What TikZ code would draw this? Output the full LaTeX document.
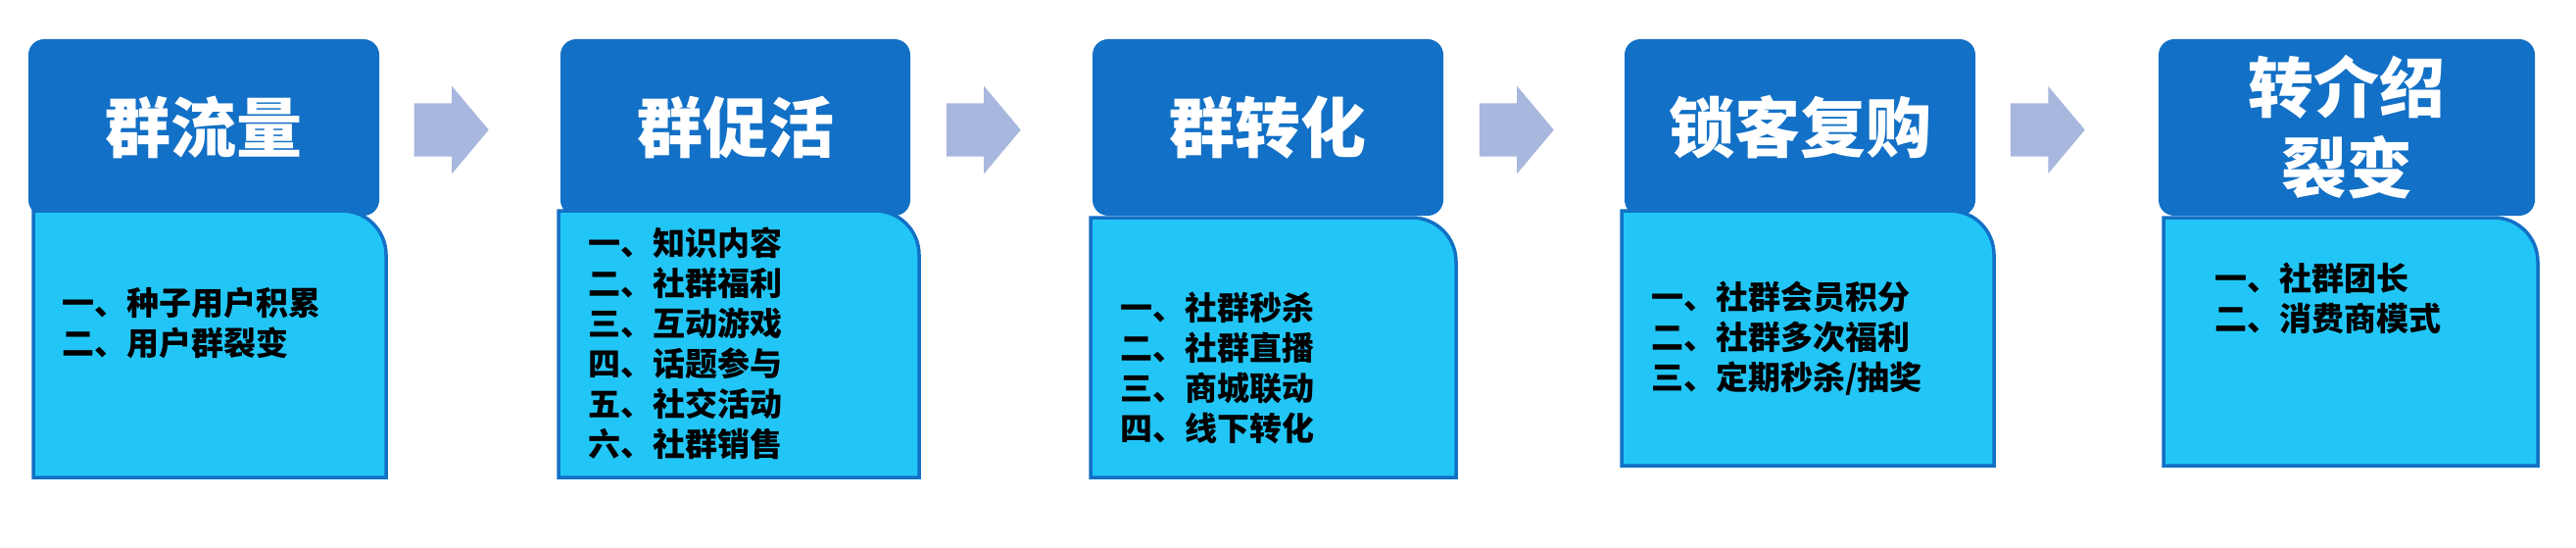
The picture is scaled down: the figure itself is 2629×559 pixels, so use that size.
\documentclass[tikz,border=0pt]{standalone}
\usepackage{fontspec}
\newfontfamily\cjk{Noto Sans CJK SC}
\usetikzlibrary{shapes.arrows}
\definecolor{headblue}{RGB}{18,112,198}
\definecolor{bodyblue}{RGB}{34,198,246}
\definecolor{linkblue}{RGB}{168,183,221}
\begin{document}
\begin{tikzpicture}[x=1pt,y=-1pt,
  head/.style={rectangle, rounded corners=16pt, fill=headblue, text=white, minimum height=180pt, align=center, inner sep=0pt, font=\cjk\bfseries\fontsize{67}{82}\selectfont},
  body/.style={fill=bodyblue, draw=headblue, line width=3.5pt},
  item/.style={anchor=west, align=left, inner sep=0pt, font=\cjk\bfseries\fontsize{33}{41}\selectfont},
  link/.style={single arrow, fill=linkblue, anchor=tip, minimum height=76pt, inner xsep=0pt, inner ysep=27pt, single arrow head extend=17.5pt, single arrow tip angle=100}]
\useasboundingbox (0,0) rectangle (2629,559);
% stage 1
\node[head, minimum width=358pt] (H1) at (208,130) {群流量};
\draw[body] (34,487) -- (34,215) [rounded corners=45pt] -- (394,215) [sharp corners] -- (394,487) -- cycle;
\node[item] (T1) at (63,330) {一、种子用户积累\\二、用户群裂变};
\node[link] (A1) at (499,132.5) {};
% stage 2
\node[head, minimum width=357pt] (H2) at (750.5,130) {群促活};
\draw[body] (570,487) -- (570,215) [rounded corners=45pt] -- (938,215) [sharp corners] -- (938,487) -- cycle;
\node[item] (T2) at (600,350) {一、知识内容\\二、社群福利\\三、互动游戏\\四、话题参与\\五、社交活动\\六、社群销售};
\node[link] (A2) at (1042,132.5) {};
% stage 3
\node[head, minimum width=358pt] (H3) at (1294,130) {群转化};
\draw[body] (1113,487) -- (1113,222) [rounded corners=45pt] -- (1486,222) [sharp corners] -- (1486,487) -- cycle;
\node[item] (T3) at (1143,375) {一、社群秒杀\\二、社群直播\\三、商城联动\\四、线下转化};
\node[link] (A3) at (1586,132.5) {};
% stage 4
\node[head, minimum width=358pt] (H4) at (1837,130) {锁客复购};
\draw[body] (1655,475) -- (1655,215) [rounded corners=45pt] -- (2035,215) [sharp corners] -- (2035,475) -- cycle;
\node[item] (T4) at (1685,345) {一、社群会员积分\\二、社群多次福利\\三、定期秒杀/抽奖};
\node[link] (A4) at (2128,132.5) {};
% stage 5
\node[head, minimum width=384pt] (H5) at (2395,130) {转介绍\\裂变};
\draw[body] (2208,475) -- (2208,222) [rounded corners=45pt] -- (2590,222) [sharp corners] -- (2590,475) -- cycle;
\node[item] (T5) at (2260,304) {一、社群团长\\二、消费商模式};
\end{tikzpicture}
\end{document}
